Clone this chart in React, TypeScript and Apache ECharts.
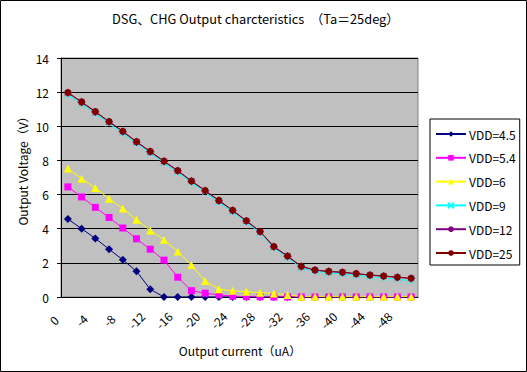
import React, { useEffect, useRef } from "react";
import * as echarts from "echarts";

const categories = ["0","-2","-4","-6","-8","-10","-12","-14","-16","-18","-20","-22","-24","-26","-28","-30","-32","-34","-36","-38","-40","-42","-44","-46","-48","-50"];
const vdd45 = [4.57, 4.0, 3.43, 2.8, 2.18, 1.51, 0.45, 0, 0, 0, 0, 0, 0, 0, 0, 0, 0, 0, 0, 0, 0, 0, 0, 0, 0, 0];
const vdd54 = [6.45, 5.86, 5.25, 4.66, 4.04, 3.41, 2.8, 2.16, 1.16, 0.37, 0.22, 0.12, 0.05, 0.02, 0.01, 0, 0, 0, 0, 0, 0, 0, 0, 0, 0, 0];
const vdd6 = [7.53, 6.92, 6.39, 5.76, 5.18, 4.53, 3.9, 3.35, 2.66, 1.87, 0.93, 0.46, 0.36, 0.31, 0.25, 0.21, 0.12, 0.02, 0.02, 0.02, 0.02, 0.02, 0.02, 0.02, 0.02, 0.02];
const vdd9 = [11.85, 11.3, 10.75, 10.18, 9.6, 9.0, 8.43, 7.86, 7.3, 6.7, 6.14, 5.56, 4.98, 4.38, 3.75, 2.9, 2.3, 1.72, 1.5, 1.42, 1.35, 1.27, 1.19, 1.12, 1.04, 0.95];
const vdd12 = [11.96, 11.41, 10.84, 10.26, 9.69, 9.08, 8.51, 7.94, 7.39, 6.78, 6.22, 5.64, 5.06, 4.45, 3.82, 2.94, 2.38, 1.78, 1.57, 1.49, 1.44, 1.36, 1.28, 1.22, 1.15, 1.09];
const vdd25 = [11.98, 11.43, 10.86, 10.28, 9.71, 9.1, 8.53, 7.96, 7.41, 6.8, 6.24, 5.66, 5.08, 4.47, 3.84, 2.96, 2.4, 1.8, 1.58, 1.5, 1.45, 1.37, 1.29, 1.23, 1.16, 1.1];
const seriesNames = ["VDD=4.5", "VDD=5.4", "VDD=6", "VDD=9", "VDD=12", "VDD=25"];
const yTicks = [0, 14, 2];

const FONT = "'Noto Sans CJK JP', sans-serif";

export default function App() {
  const ref = useRef<HTMLDivElement>(null);
  useEffect(() => {
    if (!ref.current) return;
    const chart = echarts.init(ref.current, null, { renderer: "svg" });
    const mk = (name: string, data: number[], color: string, symbol: string, size: number) => ({
      name,
      type: "line",
      data,
      symbol,
      symbolSize: size,
      lineStyle: { color, width: 1 },
      itemStyle: { color },
    });
    chart.setOption({
      animation: false,
      textStyle: { fontFamily: FONT },
      grid: {
        left: 61, right: 109, top: 58, bottom: 75,
        show: true, backgroundColor: "#C0C0C0", borderColor: "#808080", borderWidth: 1,
      },
      legend: {
        orient: "vertical",
        left: 430, top: 119,
        data: seriesNames,
        backgroundColor: "#fff",
        borderColor: "#000", borderWidth: 1, borderRadius: 0,
        padding: [9, 4, 6, 5],
        itemWidth: 30, itemHeight: 7, itemGap: 11.8,
        textStyle: { fontFamily: FONT, fontSize: 12, color: "#000", padding: [0, 0, 0, -2] },
      },
      xAxis: {
        type: "category",
        data: categories,
        boundaryGap: true,
        axisLine: { lineStyle: { color: "#000", width: 1 } },
        axisTick: { interval: 0, inside: true, length: 3, lineStyle: { color: "#000" } },
        axisLabel: {
          interval: 1, rotate: 45, margin: 9, align: "center", verticalAlign: "middle",
          padding: [0, 40, 0, 0],
          fontSize: 12, color: "#000", fontFamily: FONT,
        },
        splitLine: { show: false },
      },
      yAxis: {
        type: "value",
        min: yTicks[0], max: yTicks[1], interval: yTicks[2],
        axisLine: { show: true, lineStyle: { color: "#000", width: 1 } },
        axisTick: { show: true, length: 4, lineStyle: { color: "#000" } },
        axisLabel: { margin: 12, fontSize: 12, color: "#000", fontFamily: FONT },
        splitLine: { lineStyle: { color: "#000", width: 1 } },
      },
      graphic: [
        { type: "rect", shape: { x: 0.5, y: 0.5, width: 526, height: 371 }, style: { fill: "none", stroke: "#000", lineWidth: 1 }, silent: true },
        { type: "text", x: 112, y: 18, style: { text: "DSG、CHG Output charcteristics　（Ta＝25deg）", fill: "#000", font: "12.8px " + FONT, align: "left", verticalAlign: "middle" } },
        { type: "text", x: 240, y: 350, style: { text: "Output current（uA）", fill: "#000", font: "12px " + FONT, align: "center", verticalAlign: "middle" } },
        { type: "text", x: 22, y: 168, rotation: Math.PI / 2, style: { text: "Output Voltage（V）", fill: "#000", font: "12px " + FONT, align: "center", verticalAlign: "middle" } },
      ],
      series: [
        mk(seriesNames[0], vdd45, "#000080", "diamond", 8),
        mk(seriesNames[1], vdd54, "#FF00FF", "rect", 7),
        mk(seriesNames[2], vdd6, "#FFFF00", "triangle", 8),
        { ...mk(seriesNames[3], vdd9, "#00FFFF", "path://M0,0L10,10M10,0L0,10", 7), itemStyle: { color: "none", borderColor: "#00FFFF", borderWidth: 1 } },
        { ...mk(seriesNames[4], vdd12, "#800080", "path://M5,0L5,10M0,5L10,5M1.5,1.5L8.5,8.5M8.5,1.5L1.5,8.5", 8), itemStyle: { color: "none", borderColor: "#800080", borderWidth: 1 } },
        mk(seriesNames[5], vdd25, "#800000", "circle", 7),
      ],
    });
    return () => chart.dispose();
  }, []);
  return <div ref={ref} style={{ position: "fixed", left: 0, top: 0, width: 527, height: 372, background: "#fff" }} />;
}
